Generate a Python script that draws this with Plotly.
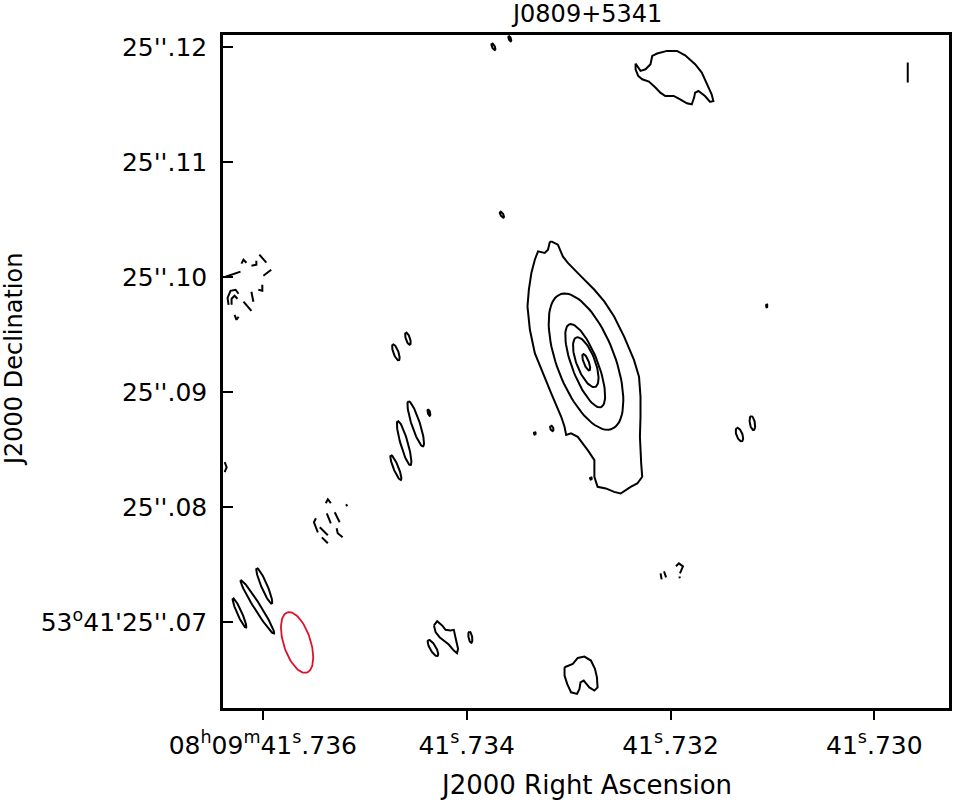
import numpy as np
import plotly.graph_objects as go

# ---------------- reference position & axis ticks ----------------
TITLE = "J0809+5341"
RA0_S = 41.730          # 08h09m41.730s (reference RA, seconds)
DEC0_AS = 25.07         # +53d41'25.07" (reference Dec, arcsec)
DEC_DEG = 53 + 41 / 60 + 25.07 / 3600
MAS_PER_MS = 15 * np.cos(np.radians(DEC_DEG))   # sky mas per ms of RA

x_range_ra = [41.736391, 41.7292675]
y_range_dec = [25.062567, 25.12106]
x_tick_ra = [41.736, 41.734, 41.732, 41.730]
x_tick_text = ["08<sup>h</sup>09<sup>m</sup>41<sup>s</sup>.736", "41<sup>s</sup>.734",
               "41<sup>s</sup>.732", "41<sup>s</sup>.730"]
x_minor_ra = [41.736, 41.735, 41.734, 41.733, 41.732, 41.731, 41.730]
y_tick_dec = [25.07, 25.08, 25.09, 25.10, 25.11, 25.12]
y_tick_text = ["53<sup>o</sup>41'25''.07", "25''.08", "25''.09", "25''.10", "25''.11", "25''.12"]

# ---------------- contours (offsets in mas: east, north) ----------------
# nearly elliptical positive contours: east, north, semi-major, semi-minor, PA(deg)
ell_east  = [25.13, 25.20, 25.15, 25.11, 41.70, 40.65, 39.97, 40.98, 41.70, 38.82,
             11.76, 10.63, 28.11, 29.59, 24.70, 55.33, 53.77, 53.17, 38.47, 35.21,
             33.20, 31.77, 32.46, 9.38]
ell_north = [22.67, 22.32, 22.62, 22.62, 23.48, 24.67, 17.27, 15.59, 13.46, 18.25,
             16.33, 17.33, 16.87, 16.44, 12.52, 0.83, 1.35, 3.18, -2.22, -1.28,
             50.04, 50.74, 35.45, 27.53]
ell_major = [6.27, 3.85, 2.30, 0.76, 0.74, 0.56, 2.06, 2.00, 1.16, 0.30,
             0.62, 0.62, 0.25, 0.12, 0.10, 1.40, 2.73, 1.67, 0.80, 0.50,
             0.32, 0.25, 0.30, 0.15]
ell_minor = [2.52, 1.13, 0.80, 0.22, 0.22, 0.18, 0.36, 0.32, 0.22, 0.10,
             0.26, 0.22, 0.13, 0.08, 0.08, 0.20, 0.28, 0.26, 0.26, 0.16,
             0.12, 0.10, 0.12, 0.06]
ell_pa    = [21, 21, 21, 21, 20, 18, 18, 16, 22, 15,
             20, 10, 20, 0, 0, 24, 32, 23, 30, 10,
             25, 20, 30, 0]

outer_e = [28.16, 27.58, 27.15, 26.71, 25.56, 24.40, 23.54, 22.68, 21.81, 20.95, 20.51, 20.38,
           20.38, 20.43, 20.32, 20.23, 20.66, 21.24, 22.11, 22.68, 23.40, 24.12, 24.40, 24.40,
           24.98, 25.85, 26.43, 26.86, 27.00, 27.29, 28.16, 28.73, 29.59, 30.02, 30.23, 30.11,
           29.89, 29.59, 29.31, 28.73, 28.44, 28.29, 28.16]
outer_n = [33.13, 32.84, 31.82, 31.25, 30.08, 28.92, 27.90, 26.59, 24.85, 22.82, 21.37, 19.63,
           17.88, 16.14, 13.82, 12.66, 12.08, 11.79, 11.21, 11.35, 11.65, 11.79, 12.66, 14.11,
           14.98, 16.14, 16.44, 16.29, 17.01, 17.88, 19.92, 21.37, 23.41, 25.44, 27.47, 28.92,
           30.38, 31.53, 32.26, 32.12, 32.40, 33.04, 33.13]
ne_blob_e = [20.81, 20.38, 19.94, 19.51, 19.36, 18.93, 18.07, 17.20, 16.49, 15.62, 15.04, 14.61,
             14.18, 14.03, 14.32, 14.76, 15.33, 15.62, 15.71, 15.91, 16.34, 16.92, 17.49, 18.22,
             18.65, 19.08, 19.65, 20.23, 20.58, 20.81, 20.81]
ne_blob_n = [48.58, 47.94, 48.08, 48.52, 49.24, 49.45, 49.68, 49.68, 49.30, 48.52, 47.80, 46.78,
             45.91, 45.32, 45.24, 45.76, 46.19, 46.05, 45.62, 45.04, 45.12, 45.47, 45.76, 45.76,
             46.05, 46.49, 47.01, 47.21, 47.50, 48.08, 48.58]
s_blob_e = [27.00, 26.71, 26.28, 25.85, 25.27, 24.70, 24.35, 24.18, 24.12, 24.40, 24.84, 25.33,
            25.61, 25.70, 25.91, 26.43, 26.77, 27.00, 27.00]
s_blob_n = [-3.89, -3.75, -3.60, -3.08, -2.96, -3.31, -4.03, -4.76, -5.64, -5.92, -5.64, -5.05,
            -5.20, -5.78, -6.21, -6.07, -5.34, -4.62, -3.89]
sw_blob_e = [38.38, 38.10, 37.67, 37.37, 36.94, 36.65, 36.51, 36.28, 36.37, 36.65, 37.09, 37.52,
             37.89, 38.24, 38.38]
sw_blob_n = [-0.26, 0.11, -0.26, -0.64, -0.70, -0.64, -1.28, -2.29, -2.67, -2.44, -1.92, -1.57,
             -1.28, -0.84, -0.26]
edge_mark_e = [56.62, 56.45, 56.62]
edge_mark_n = [13.94, 13.50, 13.07]
ne_tick_e = [-2.91, -2.91]
ne_tick_n = [48.67, 46.93]

# negative (dashed) contour pieces
neg_e = [[55.16, 54.98, 54.72], [54.29, 53.86, 53.86], [53.60, 52.99], [53.25, 52.56],
         [56.54, 55.93, 55.24], [56.28, 56.37, 56.11, 55.67, 55.41], [56.02, 56.02, 55.76, 55.50],
         [54.98, 54.29], [54.29, 54.12], [53.69, 53.34, 53.34], [55.76, 55.59, 55.41],
         [47.81, 47.63, 47.37], [46.04, 45.94], [47.72, 47.37], [47.03, 46.60],
         [48.67, 48.84, 48.50], [48.33, 47.63], [46.86, 46.77, 46.34], [48.15, 47.63],
         [18.63, 18.54], [18.33, 18.15], [17.29, 17.03, 16.68, 16.86, 16.94], [16.99, 16.95]]
neg_n = [[31.19, 31.53, 31.27], [31.01, 31.10, 31.45], [31.97, 31.27], [30.14, 30.66],
         [30.05, 30.23, 30.49], [27.61, 28.22, 28.83, 28.92, 28.57], [27.61, 28.14, 28.40, 28.14],
         [27.88, 27.09], [28.75, 27.88], [28.92, 28.83, 29.36], [26.74, 26.31, 26.57],
         [10.37, 10.71, 10.37], [10.28, 10.10], [9.49, 8.62], [9.58, 8.71],
         [9.06, 8.71, 7.84], [8.28, 7.58], [8.19, 7.75, 7.40], [7.40, 6.88],
         [4.27, 3.75], [4.44, 3.92], [4.88, 5.14, 4.88, 4.44, 4.27], [4.00, 3.84]]

# restoring beam: east, north, FWHM major, FWHM minor (mas), PA (deg)
beam = dict(east=50.31, north=-1.74, major=5.50, minor=2.35, pa=18)


# ---------------- helpers ----------------
def to_radec(e, n):
    e = np.asarray(e, dtype=float)
    n = np.asarray(n, dtype=float)
    return RA0_S + e / MAS_PER_MS / 1000.0, DEC0_AS + n / 1000.0


def ellipse(e0, n0, a, b, pa_deg, npts=90):
    t = np.linspace(0, 2 * np.pi, npts)
    p = np.radians(pa_deg)
    n = n0 + a * np.cos(t) * np.cos(p) - b * np.sin(t) * np.sin(p)
    e = e0 + a * np.cos(t) * np.sin(p) + b * np.sin(t) * np.cos(p)
    return to_radec(e, n)


def join(pieces):
    xs, ys = [], []
    for x, y in pieces:
        xs += list(x) + [None]
        ys += list(y) + [None]
    return xs, ys


pos_pieces = [ellipse(*args) for args in zip(ell_east, ell_north, ell_major, ell_minor, ell_pa)]
for e, n in [(outer_e, outer_n), (ne_blob_e, ne_blob_n), (s_blob_e, s_blob_n),
             (sw_blob_e, sw_blob_n), (edge_mark_e, edge_mark_n), (ne_tick_e, ne_tick_n)]:
    pos_pieces.append(to_radec(e, n))
neg_pieces = [to_radec(e, n) for e, n in zip(neg_e, neg_n)]

px, py = join(pos_pieces)
nx, ny = join(neg_pieces)
bx, by = ellipse(beam["east"], beam["north"], beam["major"] / 2, beam["minor"] / 2, beam["pa"])

fig = go.Figure()
fig.add_trace(go.Scatter(x=px, y=py, mode="lines", line=dict(color="black", width=2),
                         name="positive contours", hoverinfo="skip"))
fig.add_trace(go.Scatter(x=nx, y=ny, mode="lines", line=dict(color="black", width=2),
                         name="negative contours", hoverinfo="skip"))
fig.add_trace(go.Scatter(x=bx, y=by, mode="lines", line=dict(color="#e0102a", width=1.8),
                         name="beam", hoverinfo="skip"))

FONT = "DejaVu Sans"
axis_common = dict(showgrid=False, zeroline=False, tickcolor="black", tickwidth=2)

fig.update_layout(
    width=957, height=802,
    margin=dict(l=223, r=5, t=35, b=94),
    plot_bgcolor="white", paper_bgcolor="white",
    showlegend=False,
    font=dict(family=FONT, size=25, color="black"),
    xaxis=dict(range=x_range_ra, autorange=False, tickmode="array", tickvals=x_tick_ra,
               ticktext=x_tick_text, ticks="outside", ticklen=9, showline=True, linewidth=2.5,
               linecolor="black", mirror=True, ticklabelstandoff=4,
               tickfont=dict(family=FONT, size=25), **axis_common),
    xaxis2=dict(range=x_range_ra, autorange=False, overlaying="x", anchor="y", side="bottom",
                tickmode="array", tickvals=x_minor_ra, ticks="inside", ticklen=11,
                showticklabels=False, showline=False, **axis_common),
    xaxis3=dict(range=x_range_ra, autorange=False, overlaying="x", anchor="y", side="top",
                tickmode="array", tickvals=x_minor_ra, ticks="inside", ticklen=11,
                showticklabels=False, showline=False, **axis_common),
    yaxis=dict(range=y_range_dec, autorange=False, tickmode="array", tickvals=y_tick_dec,
               ticktext=y_tick_text, ticks="inside", ticklen=10, showline=True, linewidth=2.5,
               linecolor="black", mirror=True, ticklabelstandoff=8,
               tickfont=dict(family=FONT, size=25), **axis_common),
    yaxis2=dict(range=y_range_dec, autorange=False, overlaying="y", anchor="x", side="right",
                tickmode="array", tickvals=y_tick_dec, ticks="inside", ticklen=9,
                showticklabels=False, showline=False, **axis_common),
    annotations=[
        dict(text=TITLE, xref="paper", yref="paper", x=0.5, y=1, yshift=21,
             xanchor="center", yanchor="middle", showarrow=False,
             font=dict(family=FONT, size=24, color="black")),
        dict(text="J2000 Right Ascension", xref="paper", yref="paper", x=0.5, y=0, yshift=-77,
             xanchor="center", yanchor="middle", showarrow=False,
             font=dict(family=FONT, size=26, color="black")),
        dict(text="J2000 Declination", xref="paper", yref="paper", x=0, xshift=-209, y=0.517,
             xanchor="center", yanchor="middle", textangle=-90, showarrow=False,
             font=dict(family=FONT, size=24, color="black")),
    ],
)

fig.write_html("out.html", config={"displayModeBar": False},
               post_script="document.body.style.margin='0px';")
